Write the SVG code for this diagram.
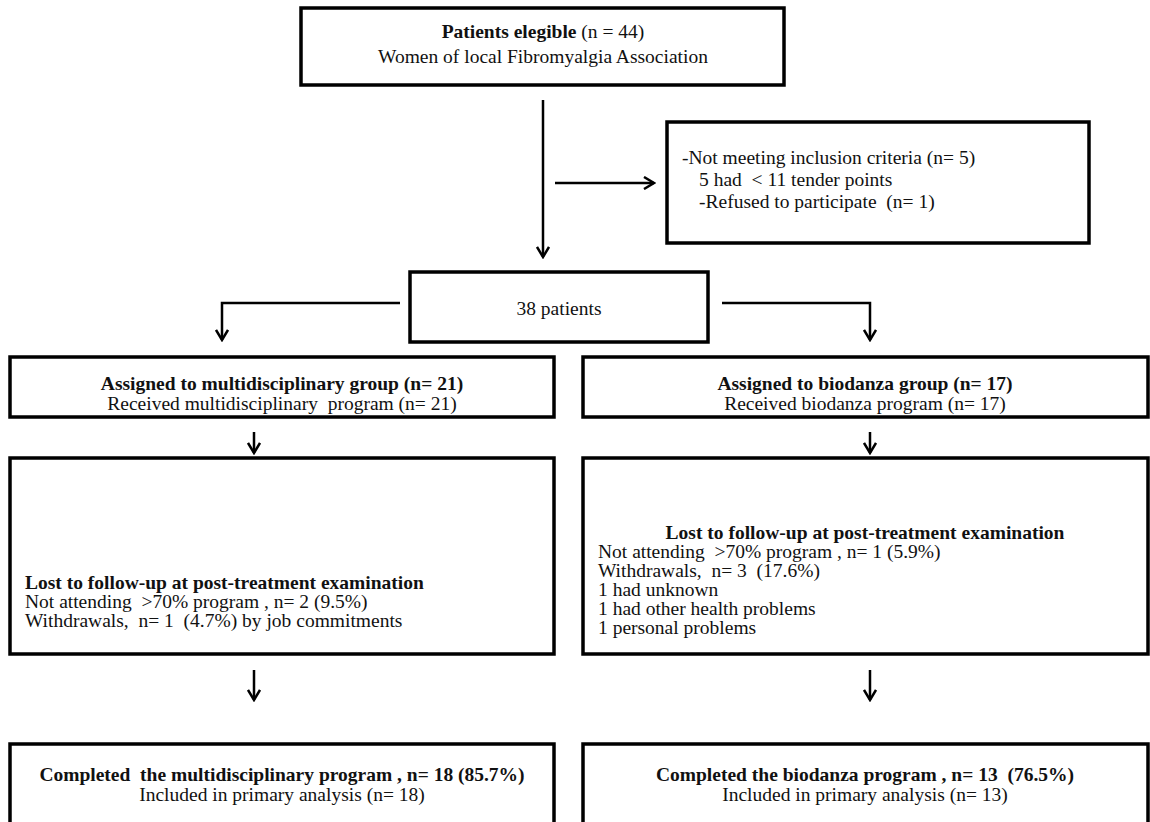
<svg xmlns="http://www.w3.org/2000/svg" width="1150" height="822" viewBox="0 0 1150 822">
<style>
.box{fill:#fff;stroke:#000;stroke-width:3.5}
.t{font-family:"Liberation Serif","Times New Roman",serif;font-size:19.5px;fill:#111}
.b{font-weight:bold}
.c{text-anchor:middle}
.ln{fill:none;stroke:#000;stroke-width:2.5}
</style>
<defs>
<marker id="ah" viewBox="0 0 14 14" refX="12" refY="7" markerWidth="14" markerHeight="14" orient="auto" markerUnits="userSpaceOnUse">
<path d="M2,1 L12,7 L2,13" fill="none" stroke="#000" stroke-width="2.5"/>
</marker>
</defs>
<rect width="1150" height="822" fill="#fff"/>
<g id="connectors">
<path class="ln" d="M543,100 V257" marker-end="url(#ah)"/>
<path class="ln" d="M555,183 H654" marker-end="url(#ah)"/>
<path class="ln" d="M400,303 H222 V340" marker-end="url(#ah)"/>
<path class="ln" d="M722,303 H870 V340" marker-end="url(#ah)"/>
<path class="ln" d="M254,432 V453" marker-end="url(#ah)"/>
<path class="ln" d="M870,432 V453" marker-end="url(#ah)"/>
<path class="ln" d="M254,670 V700" marker-end="url(#ah)"/>
<path class="ln" d="M870,670 V700" marker-end="url(#ah)"/>
</g>
<g id="eligible">
<rect class="box" x="301" y="8" width="483" height="77"/>
<text class="t c" x="543" y="38"><tspan class="b">Patients elegible</tspan> (n = 44)</text>
<text class="t c" x="543" y="63">Women of local Fibromyalgia Association</text>
</g>
<g id="excluded">
<rect class="box" x="667" y="122" width="422" height="121"/>
<text class="t" x="682" y="164">-Not meeting inclusion criteria (n= 5)</text>
<text class="t" x="699" y="186" xml:space="preserve">5 had  &lt; 11 tender points</text>
<text class="t" x="699" y="208" xml:space="preserve">-Refused to participate  (n= 1)</text>
</g>
<g id="patients38">
<rect class="box" x="410" y="272" width="298" height="70"/>
<text class="t c" x="559" y="315">38 patients</text>
</g>
<g id="assigned-multi">
<rect class="box" x="10" y="357" width="544" height="60"/>
<text class="t b c" x="282" y="390">Assigned to multidisciplinary group (n= 21)</text>
<text class="t c" x="282" y="410" xml:space="preserve">Received multidisciplinary  program (n= 21)</text>
</g>
<g id="assigned-bio">
<rect class="box" x="583" y="357" width="565" height="60"/>
<text class="t b c" x="865" y="390">Assigned to biodanza group (n= 17)</text>
<text class="t c" x="865" y="410">Received biodanza program (n= 17)</text>
</g>
<g id="lost-multi">
<rect class="box" x="10" y="458" width="544" height="196"/>
<text class="t b" x="25" y="589">Lost to follow-up at post-treatment examination</text>
<text class="t" x="25" y="608" xml:space="preserve">Not attending  &gt;70% program , n= 2 (9.5%)</text>
<text class="t" x="25" y="627" xml:space="preserve">Withdrawals,  n= 1  (4.7%) by job commitments</text>
</g>
<g id="lost-bio">
<rect class="box" x="583" y="458" width="565" height="196"/>
<text class="t b c" x="865" y="539">Lost to follow-up at post-treatment examination</text>
<text class="t" x="598" y="558" xml:space="preserve">Not attending  &gt;70% program , n= 1 (5.9%)</text>
<text class="t" x="598" y="577" xml:space="preserve">Withdrawals,  n= 3  (17.6%)</text>
<text class="t" x="598" y="596">1 had unknown</text>
<text class="t" x="598" y="615">1 had other health problems</text>
<text class="t" x="598" y="634">1 personal problems</text>
</g>
<g id="completed-multi">
<rect class="box" x="10" y="744" width="544" height="100"/>
<text class="t b c" x="282" y="781" xml:space="preserve">Completed  the multidisciplinary program , n= 18 (85.7%)</text>
<text class="t c" x="282" y="801">Included in primary analysis (n= 18)</text>
</g>
<g id="completed-bio">
<rect class="box" x="583" y="744" width="565" height="100"/>
<text class="t b c" x="865" y="781" xml:space="preserve">Completed the biodanza program , n= 13  (76.5%)</text>
<text class="t c" x="865" y="801">Included in primary analysis (n= 13)</text>
</g>
</svg>
